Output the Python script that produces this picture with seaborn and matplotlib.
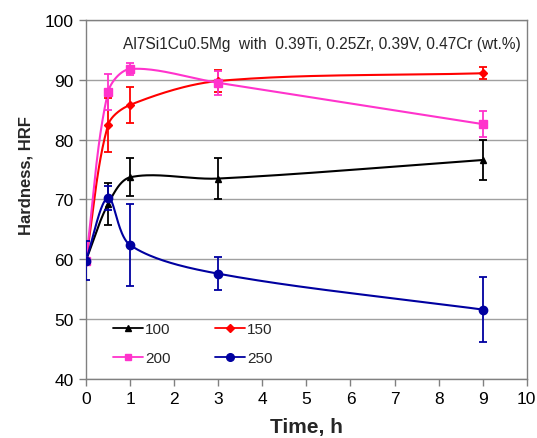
import numpy as np
import pandas as pd
import matplotlib
matplotlib.use("Agg")
import matplotlib.pyplot as plt
import seaborn as sns
from matplotlib.lines import Line2D

time_h = [0, 0.5, 1, 3, 9]
series_names = ["100", "150", "200", "250"]
hard_100 = [59.8, 69.2, 73.7, 73.5, 76.6]
err_100 = [0.0, 3.5, 3.2, 3.5, 3.3]
hard_150 = [59.8, 82.4, 85.8, 89.8, 91.1]
err_150 = [0.0, 4.5, 3.0, 1.8, 1.0]
hard_200 = [59.8, 87.9, 91.8, 89.5, 82.6]
err_200 = [0.0, 3.0, 1.0, 2.0, 2.2]
hard_250 = [59.8, 70.3, 62.4, 57.6, 51.6]
err_250 = [3.3, 2.0, 6.8, 2.8, 5.4]

colors = ["#000000", "#FF0000", "#FF33CC", "#0000A0"]
markers = ["^", "D", "s", "o"]
msizes = [5, 4.5, 5.5, 6]

sns.set_theme(style="white")
plt.rcParams["font.family"] = ["Liberation Sans", "DejaVu Sans"]

fig = plt.figure(figsize=(5.37, 4.39), dpi=100)
ax = fig.add_axes([0.160, 0.1344, 0.821, 0.8178])

df = pd.DataFrame({
    "time": time_h * 4,
    "hardness": hard_100 + hard_150 + hard_200 + hard_250,
    "err": err_100 + err_150 + err_200 + err_250,
    "series": sum([[s] * len(time_h) for s in series_names], []),
})

# pixel scales used only for the curve-smoothing geometry
SX, SY = 44.1, 5.98


def smooth(x, y, n=40, tension=0.32):
    P = np.column_stack([np.asarray(x, float) * SX, np.asarray(y, float) * SY])
    P = np.vstack([P[0], P, P[-1]])
    out = []
    for i in range(1, len(P) - 2):
        p0, p1, p2, p3 = P[i - 1], P[i], P[i + 1], P[i + 2]
        d01 = np.linalg.norm(p1 - p0)
        d12 = np.linalg.norm(p2 - p1)
        d23 = np.linalg.norm(p3 - p2)
        f1 = tension * d12 / (d01 + d12) if (d01 + d12) > 0 else 0
        f2 = tension * d12 / (d12 + d23) if (d12 + d23) > 0 else 0
        c1 = p1 + (p2 - p0) * f1
        c2 = p2 - (p3 - p1) * f2
        t = np.linspace(0, 1, n)[:, None]
        b = (1 - t) ** 3 * p1 + 3 * (1 - t) ** 2 * t * c1 + 3 * (1 - t) * t ** 2 * c2 + t ** 3 * p2
        out.append(b if i == 1 else b[1:])
    B = np.vstack(out)
    return B[:, 0] / SX, B[:, 1] / SY


for s, c, m, ms in zip(series_names, colors, markers, msizes):
    sub = df[df["series"] == s]
    sx, sy = smooth(sub["time"], sub["hardness"])
    sm = pd.DataFrame({"time": sx, "hardness": sy})
    sns.lineplot(data=sm, x="time", y="hardness", ax=ax, color=c, lw=1.5,
                 sort=False, estimator=None, zorder=3)
    ax.errorbar(sub["time"], sub["hardness"], yerr=sub["err"], fmt="none",
                ecolor=c, elinewidth=1.3, capsize=3, capthick=1.3, zorder=4)
    ax.plot(sub["time"], sub["hardness"], linestyle="none", marker=m,
            color=c, markersize=ms, zorder=5)

ax.set_xlim(0, 10)
ax.set_ylim(40, 100)
ax.set_xticks(range(0, 11))
ax.set_yticks(range(40, 101, 10))
ax.yaxis.grid(True, color="#A0A0A0", lw=1)
ax.xaxis.grid(False)
for sp in ax.spines.values():
    sp.set_color("#808080")
    sp.set_linewidth(1)
ax.tick_params(axis="both", direction="out", length=5, width=1, color="#808080",
               labelsize=12.5, labelcolor="black", pad=4)
ax.tick_params(axis="x", bottom=True)
ax.tick_params(axis="y", left=True)
ax.set_xlabel("Time, h", fontsize=15, fontweight="bold")
ax.xaxis.set_label_coords(0.5, -0.105)
ax.set_ylabel("Hardness, HRF", fontsize=12, fontweight="bold")
ax.yaxis.set_label_coords(-0.12, 0.57)

ax.text(0.535, 0.935, "Al7Si1Cu0.5Mg  with  0.39Ti, 0.25Zr, 0.39V, 0.47Cr (wt.%)",
        transform=ax.transAxes, ha="center", va="center", fontsize=11.2)

handles = [Line2D([0], [0], color=c, marker=m, markersize=ms - 0.5, lw=1.3)
           for c, m, ms in zip(colors, markers, msizes)]
order = [0, 2, 1, 3]
ax.legend([handles[i] for i in order], [series_names[i] for i in order],
          ncol=2, loc="lower left",
          bbox_to_anchor=(0.03, 0.0), frameon=False, fontsize=11,
          handlelength=2.0, handletextpad=0.1, columnspacing=2.9,
          labelspacing=1.0)

fig.savefig("out.png", dpi=100)
